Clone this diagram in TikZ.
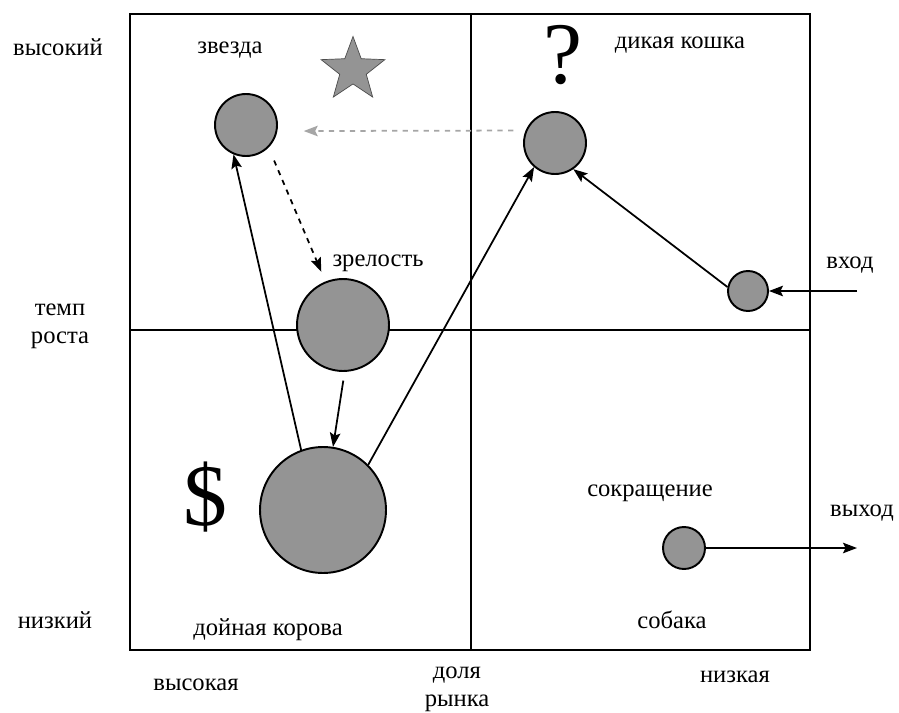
\documentclass[tikz,border=0pt]{standalone}
\usepackage{fontspec}
\setmainfont{Liberation Serif}
\usepackage{tikz}
\usetikzlibrary{shapes.geometric, arrows, arrows.meta}

\tikzstyle{bubble} = [circle, draw=black, line width=1.1pt, fill=black!42, inner sep=0pt]
\tikzstyle{lbl} = [font=\fontsize{14}{16}\selectfont, inner sep=1pt]
\tikzstyle{bigsign} = [font=\fontsize{50}{50}\selectfont, inner sep=0pt]
\tikzstyle{arrow} = [line width=1pt,->,>={Stealth[length=8pt,width=6pt,inset=1.5pt]}]
\tikzstyle{frame} = [line width=1.1pt]

\begin{document}
\begin{tikzpicture}[x=0.02cm, y=-0.02cm]
\useasboundingbox (0,0) rectangle (899,713);

% matrix
\draw [frame] (130,14) rectangle (810,650);
\draw [frame] (471,14) -- (471,650);
\draw [frame] (130,330) -- (810,330);

% bubbles
\node (star) [bubble, minimum size=1.24cm] at (246,125) {};
\node (wildcat) [bubble, minimum size=1.24cm] at (555,143) {};
\node (mature) [bubble, minimum size=1.84cm] at (343,325) {};
\node (cow) [bubble, minimum size=2.52cm] at (323,510) {};
\node (entry) [bubble, minimum size=0.8cm] at (748,291) {};
\node (dog) [bubble, minimum size=0.84cm] at (684,548) {};

% signs
\node (starsign) [star, star points=5, star point ratio=2.4, draw=black!70, fill=black!42, minimum size=1.34cm, inner sep=0pt] at (353,70) {};
\node (question) [bigsign] at (563,55) {?};
\node (dollar) [bigsign] at (205,497) {\$};

% labels
\node (high) [lbl] at (58,47) {высокий};
\node (rate) [lbl, align=center] at (60,326) {темп\\роста};
\node (low) [lbl] at (55,620) {низкий};
\node (starlbl) [lbl] at (230,50) {звезда};
\node (catlbl) [lbl] at (680,45) {дикая кошка};
\node (matlbl) [lbl] at (378,263) {зрелость};
\node (entrylbl) [lbl] at (850,265) {вход};
\node (cutlbl) [lbl] at (650,493) {сокращение};
\node (exitlbl) [lbl] at (862,513) {выход};
\node (doglbl) [lbl] at (672,620) {собака};
\node (cowlbl) [lbl] at (268,630) {дойная корова};
\node (highshare) [lbl] at (196,685) {высокая};
\node (share) [lbl, align=center] at (457,689) {доля\\рынка};
\node (lowshare) [lbl] at (735,677) {низкая};

\coordinate (entrystart) at (857,291);
\coordinate (exitend) at (857,548);

% moves
\draw [arrow, dashed, gray!70, shorten <=7pt, shorten >=15pt] (wildcat.157) -- (star.-11);
\draw [arrow, dashed, shorten <=8pt, shorten >=6pt] (star.-45) -- (mature.112);
\draw [arrow] (cow.110) -- (star.-113);
\draw [arrow, shorten <=5pt] (mature.-88) -- (cow.81);
\draw [arrow] (cow.45) -- (wildcat.-131);
\draw [arrow] (entry.169) -- (wildcat.-55);
\draw [arrow] (entrystart) -- (entry);
\draw [arrow] (dog) -- (exitend);

\end{tikzpicture}
\end{document}
